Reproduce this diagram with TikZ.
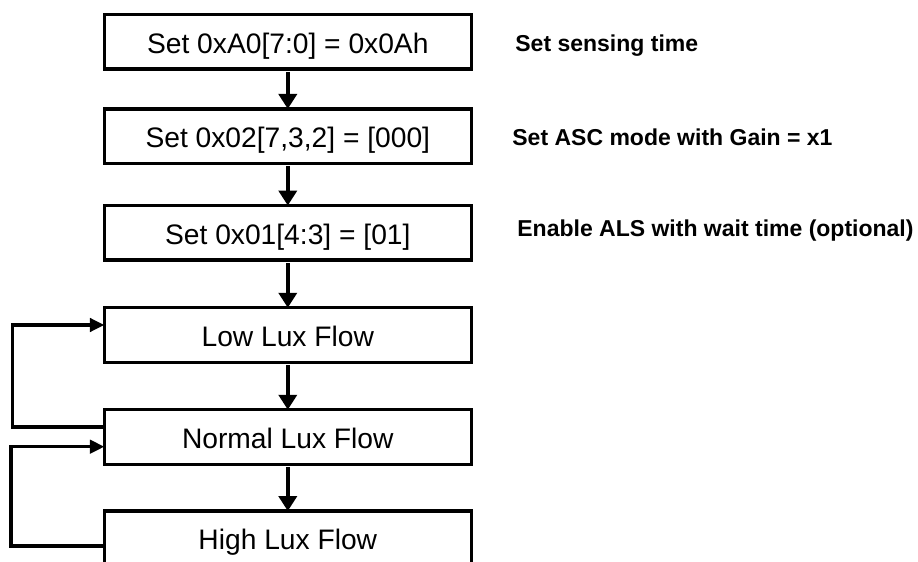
\documentclass[tikz,border=0pt]{standalone}
\usepackage{fontspec}
\setmainfont{Liberation Sans}
\usetikzlibrary{arrows.meta}
\usetikzlibrary{positioning}

\begin{document}
\begin{tikzpicture}[
    flowbox/.style={rectangle, draw=black, line width=1.6pt, minimum width=183.5pt, minimum height=27.25pt,
    inner sep=0pt, outer sep=0pt, text height=11.6pt, text depth=0pt, font=\fontsize{14.1}{17}\selectfont},
    note/.style={anchor=west, inner sep=0pt, text height=8.2pt, text depth=0pt, font=\fontsize{11.5}{14}\selectfont\bfseries},
    flow/.style={-{Triangle[length=7.5pt,width=9pt]}, line width=2.25pt, shorten <=1.5pt},
    back/.style={-{Triangle[length=7.2pt,width=6.7pt]}, line width=1.6pt}]
    \useasboundingbox (0,0) rectangle (459pt,-281pt);
    \clip (0,0) rectangle (459pt,-281pt);

    \node (sensing) [flowbox] at (143.9pt,-20.85pt) {Set 0xA0[7:0] = 0x0Ah};
    \node (ascmode) [flowbox, below=20pt of sensing] {Set 0x02[7,3,2] = [000]};
    \node (enable) [flowbox, below=21.05pt of ascmode] {Set 0x01[4:3] = [01]};
    \node (lowlux) [flowbox, below=23.85pt of enable] {Low Lux Flow};
    \node (normallux) [flowbox, below=23.75pt of lowlux] {Normal Lux Flow};
    \node (highlux) [flowbox, below=23.4pt of normallux] {High Lux Flow};

    \node (sensingnote) [note, right=21.85pt of sensing, yshift=-0.65pt] {Set sensing time};
    \node (ascnote) [note, right=20.35pt of ascmode, yshift=-0.65pt] {Set ASC mode with Gain = x1};
    \node (enablenote) [note, right=22.85pt of enable, yshift=2.4pt] {Enable ALS with wait time (optional)};

    \draw[flow] (sensing) -- (ascmode);
    \draw[flow] (ascmode) -- (enable);
    \draw[flow] (enable) -- (lowlux);
    \draw[flow] (lowlux) -- (normallux);
    \draw[flow] (normallux) -- (highlux);

    \draw[back] ([yshift=5pt]normallux.west) -- ++(-45.8pt,0) |- ([yshift=5pt]lowlux.west);
    \draw[back] ([yshift=-3.85pt]highlux.west) -- ++(-46.65pt,0) |- ([yshift=-4.85pt]normallux.west);
\end{tikzpicture}
\end{document}
